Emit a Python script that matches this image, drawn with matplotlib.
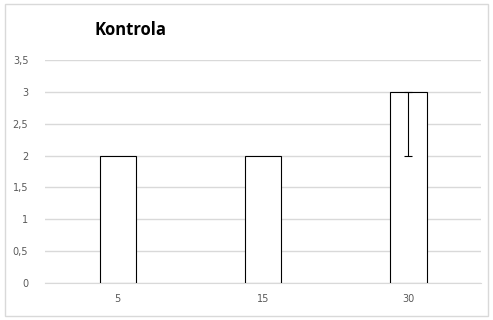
import matplotlib.pyplot as plt
from matplotlib.patches import Rectangle

# Datos
categorias = ['5', '15', '30']
valores = [2, 2, 3]
error_menos = [0, 0, 1]
error_mas = [0, 0, 0]
yticks = [0, 0.5, 1, 1.5, 2, 2.5, 3, 3.5]
ytick_labels = ['0', '0,5', '1', '1,5', '2', '2,5', '3', '3,5']

fig = plt.figure(figsize=(4.93, 3.2), dpi=100)
ax = fig.add_axes([0.0913, 0.1156, 0.8844, 0.6969])

x = list(range(len(categorias)))
ax.bar(x, valores, width=0.25, color='white', edgecolor='black', linewidth=0.8, zorder=3)

# solo las barras con error
con_error = [i for i in x if error_menos[i] or error_mas[i]]
ax.errorbar([x[i] for i in con_error], [valores[i] for i in con_error],
            yerr=[[error_menos[i] for i in con_error], [error_mas[i] for i in con_error]],
            fmt='none', ecolor='black', elinewidth=0.8, capsize=3, capthick=0.8, zorder=4)

ax.set_xlim(-0.5, len(categorias) - 0.5)
ax.set_ylim(0, 3.5)
ax.set_xticks(x)
ax.set_xticklabels(categorias)
ax.set_yticks(yticks)
ax.set_yticklabels(ytick_labels)

ax.grid(axis='y', color='#d9d9d9', linewidth=1, zorder=0)
for lado in ['top', 'right', 'left']:
    ax.spines[lado].set_visible(False)
ax.spines['bottom'].set_color('#d9d9d9')
ax.tick_params(length=0, colors='#595959', labelsize=7, pad=8)
ax.tick_params(axis='y', pad=12)

fig.text(0.265, 0.905, 'Kontrola', fontsize=12, fontweight='bold',
         ha='center', va='center', family='Open Sans')

# marco del gráfico
fig.patches.append(Rectangle((0.01, 0.012), 0.98, 0.975, transform=fig.transFigure,
                             fill=False, edgecolor='#d9d9d9', linewidth=1))

fig.savefig('out.png', dpi=100)
